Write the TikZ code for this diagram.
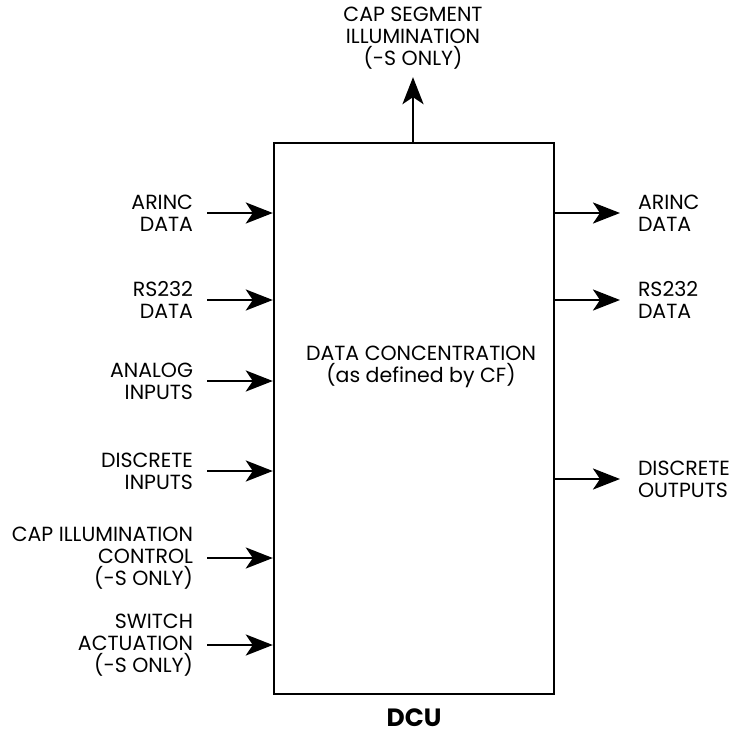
\documentclass[tikz,border=0pt]{standalone}
\usepackage{fontspec}
\setmainfont{Poppins}
\usetikzlibrary{arrows.meta,positioning}
\tikzset{
  lbl/.style={font=\fontsize{20.5}{22}\selectfont,inner sep=0pt},
  inlbl/.style={lbl,align=right,anchor=east,outer xsep=14pt},
  outlbl/.style={lbl,align=left,anchor=west,outer xsep=18pt},
  blockbox/.style={rectangle,draw=black,line width=2.4pt,
                   minimum width=280pt,minimum height=551pt,inner sep=0pt},
  arr/.style={-{Stealth[length=27pt,width=21pt,inset=7pt]},line width=2.8pt}
}
\begin{document}
\begin{tikzpicture}[x=1pt,y=-1pt]
  \useasboundingbox (0,0) rectangle (737,734);

  % main block
  \node[blockbox] (dcu) at (414,418.5) {};
  \node[lbl,align=center] (func) at (421,367)
      {DATA CONCENTRATION\\(as defined by CF)};
  \node[lbl,font=\fontsize{25}{27}\selectfont\bfseries,anchor=base]
      (name) at ([yshift=-31pt]dcu.south) {DCU};

  % inputs
  \node[inlbl] (in1) at (207,213) {ARINC\\DATA};
  \node[inlbl] (in2) at (207,300) {RS232\\DATA};
  \node[inlbl] (in3) at (207,381) {ANALOG\\INPUTS};
  \node[inlbl] (in4) at (207,471) {DISCRETE\\INPUTS};
  \node[inlbl] (in5) at (207,558) {CAP ILLUMINATION\\CONTROL\\(-S ONLY)};
  \node[inlbl] (in6) at (207,645) {SWITCH\\ACTUATION\\(-S ONLY)};

  % outputs
  \node[outlbl] (out1) at (620,213) {ARINC\\DATA};
  \node[outlbl] (out2) at (620,300) {RS232\\DATA};
  \node[outlbl] (out3) at (620,479) {DISCRETE\\OUTPUTS};

  \node[lbl,align=center,outer ysep=8pt] (cap) at (413,38)
      {CAP SEGMENT\\ILLUMINATION\\(-S ONLY)};

  \foreach \i in {in1,in2,in3,in4,in5,in6}
    \draw[arr] (\i) -- (\i -| dcu.west);
  \foreach \o in {out1,out2,out3}
    \draw[arr] (\o -| dcu.east) -- (\o);
  \draw[arr] (cap |- dcu.north) -- (cap);
\end{tikzpicture}
\end{document}
